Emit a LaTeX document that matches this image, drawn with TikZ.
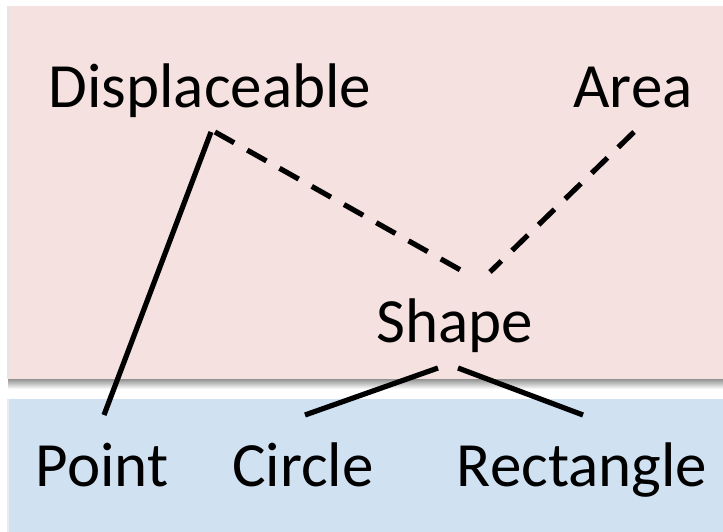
\documentclass[tikz,border=0pt]{standalone}
\usepackage{fontspec}
\setmainfont{Carlito}
\usetikzlibrary{calc}
\definecolor{pinkbg}{RGB}{245,225,223}
\definecolor{bluebg}{RGB}{208,225,242}
\tikzset{
  lbl/.style={inner sep=0pt, anchor=base, font=\fontsize{63}{66}\selectfont},
  conn/.style={line width=5.2pt, black},
  dconn/.style={conn, dash pattern=on 22pt off 15pt}
}
\begin{document}
\begin{tikzpicture}[x=1pt,y=1pt]
\useasboundingbox (0,0) rectangle (723,532);
\fill[white] (0,0) rectangle (723,532);
% shadows
\shade[top color=black!45, bottom color=white] (8.5,143) rectangle (730,153.5);
\fill[black!10] (7,153) rectangle (8.5,526);
\fill[black!8] (7,0) rectangle (8.5,133);
% panels
\fill[pinkbg] (8.5,153) rectangle (730,526);
\fill[bluebg] (8.5,-5) rectangle (730,133);
% labels
\node[lbl] (disp) at (210,424) {Displaceable};
\node[lbl] (area) at (633,424) {Area};
\node[lbl] (shape) at (455,189) {Shape};
\node[lbl] (point) at (102,45) {Point};
\node[lbl] (circle) at (303,45) {Circle};
\node[lbl] (rect) at (582,45) {Rectangle};
% connectors
\coordinate (dtop) at ($(disp.base)+(2,-24)$);
\draw[conn] ($(dtop)+(-1,0)$) -- ($(point.base)+(2,72)$);
\draw[dconn] ($(dtop)+(3,0)$) -- ($(shape.base)+(9,71)$);
\draw[dconn] ($(area.base)+(1,-24)$) -- ($(shape.base)+(35,71)$);
\draw[conn] ($(shape.base)+(-17,-25)$) -- ($(circle.base)+(2,72)$);
\draw[conn] ($(shape.base)+(3,-25)$) -- ($(rect.base)+(1,72)$);
\end{tikzpicture}
\end{document}
